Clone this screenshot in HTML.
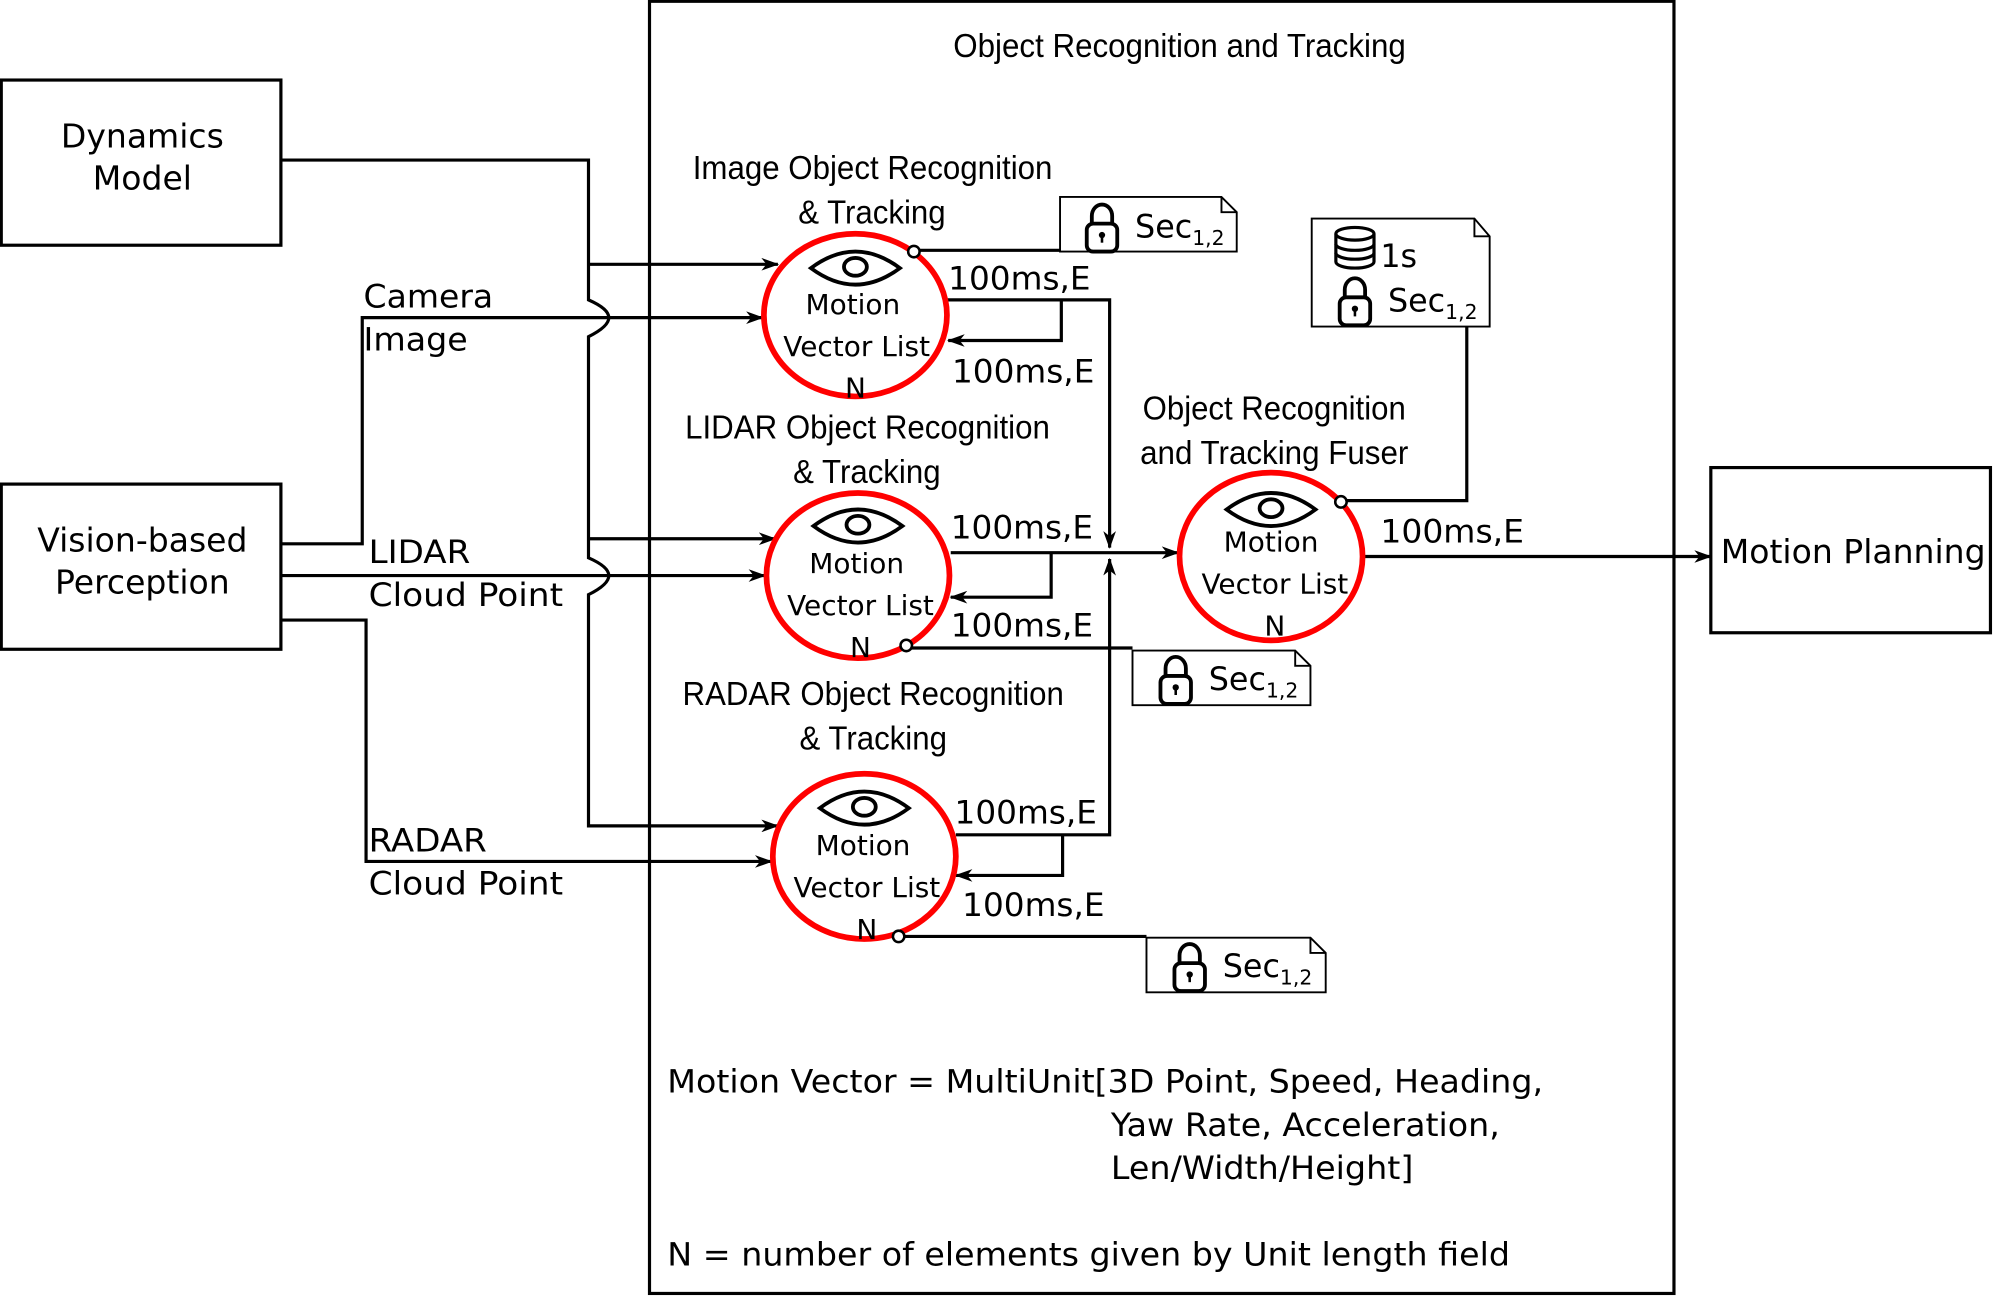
<!DOCTYPE html>
<html><head><meta charset="utf-8"><style>
html,body{margin:0;padding:0;background:#fff;}
svg{display:block;}
.n{font-family:"Liberation Sans",sans-serif;font-size:26px;}
.d{font-family:"DejaVu Sans","Liberation Sans",sans-serif;}
</style></head><body>
<svg width="1993" height="1296" viewBox="0 0 1568 1020" preserveAspectRatio="none" xmlns="http://www.w3.org/2000/svg">
<defs>
<marker id="a" markerWidth="14" markerHeight="10" refX="13" refY="5" orient="auto" markerUnits="userSpaceOnUse">
<path d="M0,0 L14,5 L0,10 L4,5 Z" fill="#000"/></marker>
<g id="eye"><path d="M-35,0 Q0,-26 35,0 Q0,26 -35,0 Z" fill="none" stroke="#000" stroke-width="3"/><ellipse cx="0" cy="-1" rx="9" ry="7" fill="none" stroke="#000" stroke-width="3"/></g>
<g id="lock"><path d="M-8,-4 V-10 A8,9 0 0 1 8,-10 V-4" fill="none" stroke="#000" stroke-width="3"/><rect x="-12" y="-4" width="24" height="22" rx="5" fill="none" stroke="#000" stroke-width="3"/><circle cx="0" cy="5" r="2.5"/><rect x="-1" y="5" width="2" height="6"/></g>
</defs>
<g fill="none" stroke="#000" stroke-width="2.5">
<rect x="1" y="63" width="220" height="130"/>
<rect x="1" y="381" width="220" height="130"/>
<rect x="511" y="1" width="806" height="1017"/>
<rect x="1346" y="368" width="220" height="130"/>
</g>
<g class="d" font-size="26" text-anchor="middle">
<text x="112" y="116">Dynamics</text><text x="112" y="149">Model</text>
<text x="112" y="434">Vision-based</text><text x="112" y="467">Perception</text>
<text x="1458" y="443">Motion Planning</text>
</g>
<g class="n" lengthAdjust="spacingAndGlyphs">
<text x="750" y="45" textLength="356" lengthAdjust="spacingAndGlyphs">Object Recognition and Tracking</text>
<text x="545" y="141" textLength="283" lengthAdjust="spacingAndGlyphs">Image Object Recognition</text><text x="628" y="176" textLength="116" lengthAdjust="spacingAndGlyphs">&amp; Tracking</text>
<text x="539" y="345" textLength="287" lengthAdjust="spacingAndGlyphs">LIDAR Object Recognition</text><text x="624" y="380" textLength="116" lengthAdjust="spacingAndGlyphs">&amp; Tracking</text>
<text x="537" y="555" textLength="300" lengthAdjust="spacingAndGlyphs">RADAR Object Recognition</text><text x="629" y="590" textLength="116" lengthAdjust="spacingAndGlyphs">&amp; Tracking</text>
<text x="899" y="330" textLength="207" lengthAdjust="spacingAndGlyphs">Object Recognition</text><text x="897" y="365" textLength="211" lengthAdjust="spacingAndGlyphs">and Tracking Fuser</text>
</g>
<g fill="none" stroke="#000" stroke-width="2.5">
<path d="M221,126 H463 V236 Q479,243 479,250 Q479,257 463,265 V439 Q479,446 479,453 Q479,460 463,468 V650 H612" marker-end="url(#a)"/>
<path d="M463,208 H612" marker-end="url(#a)"/>
<path d="M463,424 H610" marker-end="url(#a)"/>
<path d="M221,428 H285 V250 H600" marker-end="url(#a)"/>
<path d="M221,453 H602" marker-end="url(#a)"/>
<path d="M221,488 H288 V678 H607" marker-end="url(#a)"/>
<path d="M745,236 H873 V431" marker-end="url(#a)"/>
<path d="M835,236 V268 H746" marker-end="url(#a)"/>
<path d="M748,435 H927" marker-end="url(#a)"/>
<path d="M827,435 V470 H748" marker-end="url(#a)"/>
<path d="M752,657 H873 V440" marker-end="url(#a)"/>
<path d="M836,657 V689 H752" marker-end="url(#a)"/>
<path d="M1073,438 H1346" marker-end="url(#a)"/>
<path d="M719,197 H834"/>
<path d="M713,510 H891"/>
<path d="M707,737 H902"/>
<path d="M1055,394 H1154 V257"/>
</g>
<g fill="none" stroke="#f00" stroke-width="4.5">
<ellipse cx="673" cy="248" rx="72" ry="64"/>
<ellipse cx="675" cy="453" rx="72" ry="65"/>
<ellipse cx="680" cy="674" rx="72" ry="65"/>
<ellipse cx="1000" cy="438" rx="72" ry="66"/>
</g>
<g fill="#fff" stroke="#000" stroke-width="2">
<circle cx="719" cy="198" r="4.5"/><circle cx="713" cy="508" r="4.5"/><circle cx="707" cy="737" r="4.5"/><circle cx="1055" cy="395" r="4.5"/>
</g>
<use href="#eye" x="673" y="211"/><use href="#eye" x="675" y="414"/><use href="#eye" x="680" y="636"/><use href="#eye" x="1000" y="401"/>
<g class="d" font-size="22" text-anchor="middle">
<text x="671" y="247">Motion</text><text x="674" y="280">Vector List</text><text x="673" y="313">N</text>
<text x="674" y="451">Motion</text><text x="677" y="484">Vector List</text><text x="677" y="517">N</text>
<text x="679" y="673">Motion</text><text x="682" y="706">Vector List</text><text x="682" y="739">N</text>
<text x="1000" y="434">Motion</text><text x="1003" y="467">Vector List</text><text x="1003" y="500">N</text>
</g>
<g class="d" font-size="25">
<text x="746" y="228" textLength="112" lengthAdjust="spacingAndGlyphs">100ms,E</text><text x="749" y="301" textLength="112" lengthAdjust="spacingAndGlyphs">100ms,E</text>
<text x="748" y="424" textLength="112" lengthAdjust="spacingAndGlyphs">100ms,E</text><text x="748" y="501" textLength="112" lengthAdjust="spacingAndGlyphs">100ms,E</text>
<text x="751" y="648" textLength="112" lengthAdjust="spacingAndGlyphs">100ms,E</text><text x="757" y="721" textLength="112" lengthAdjust="spacingAndGlyphs">100ms,E</text>
<text x="1086" y="427" textLength="113" lengthAdjust="spacingAndGlyphs">100ms,E</text>
<text x="286" y="242" textLength="102" lengthAdjust="spacingAndGlyphs">Camera</text><text x="286" y="276" textLength="82" lengthAdjust="spacingAndGlyphs">Image</text>
<text x="290" y="443" textLength="80" lengthAdjust="spacingAndGlyphs">LIDAR</text><text x="290" y="477" textLength="153" lengthAdjust="spacingAndGlyphs">Cloud Point</text>
<text x="290" y="670" textLength="93" lengthAdjust="spacingAndGlyphs">RADAR</text><text x="290" y="704" textLength="153" lengthAdjust="spacingAndGlyphs">Cloud Point</text>
<text x="525" y="860" textLength="689" lengthAdjust="spacingAndGlyphs">Motion Vector = MultiUnit[3D Point, Speed, Heading,</text>
<text x="874" y="894" textLength="306" lengthAdjust="spacingAndGlyphs">Yaw Rate, Acceleration,</text>
<text x="874" y="928" textLength="238" lengthAdjust="spacingAndGlyphs">Len/Width/Height]</text>
<text x="525" y="996" textLength="663" lengthAdjust="spacingAndGlyphs">N = number of elements given by Unit length field</text>
</g>
<g fill="#fff" stroke="#000" stroke-width="1.5">
<path d="M834,155 H961 L973,167 V198 H834 Z"/><path d="M961,155 V167 H973" fill="none"/>
<path d="M891,512 H1019 L1031,524 V555 H891 Z"/><path d="M1019,512 V524 H1031" fill="none"/>
<path d="M902,738 H1031 L1043,750 V781 H902 Z"/><path d="M1031,738 V750 H1043" fill="none"/>
<path d="M1032,172 H1160 L1172,186 V257 H1032 Z"/><path d="M1160,172 V186 H1172" fill="none"/>
</g>
<use href="#lock" x="867" y="180"/><use href="#lock" x="925" y="536"/><use href="#lock" x="936" y="762"/><use href="#lock" x="1066" y="238"/>
<g fill="#fff" stroke="#000" stroke-width="2.5">
<path d="M1051,184 V206 A15,5 0 0 0 1081,206 V184"/>
<ellipse cx="1066" cy="184" rx="15" ry="5"/>
<path d="M1051,192 A15,5 0 0 0 1081,192 M1051,199 A15,5 0 0 0 1081,199" fill="none"/>
</g>
<g class="d" font-size="25">
<text x="893" y="187">Sec<tspan font-size="16" dy="6">1,2</tspan></text>
<text x="951" y="543">Sec<tspan font-size="16" dy="6">1,2</tspan></text>
<text x="962" y="769">Sec<tspan font-size="16" dy="6">1,2</tspan></text>
<text x="1092" y="245">Sec<tspan font-size="16" dy="6">1,2</tspan></text>
<text x="1086" y="210">1s</text>
</g>
</svg>
</body></html>
